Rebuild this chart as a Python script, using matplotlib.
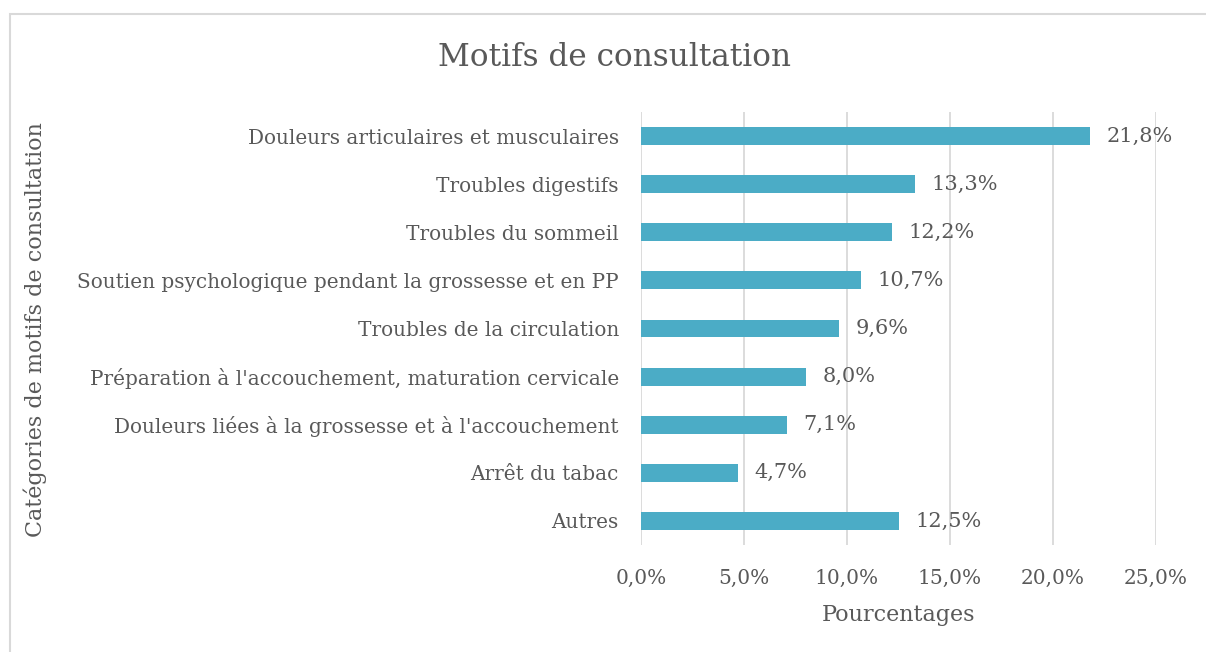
import matplotlib
matplotlib.use("Agg")
import matplotlib.pyplot as plt
from matplotlib.patches import Rectangle

categories = [
    "Douleurs articulaires et musculaires",
    "Troubles digestifs",
    "Troubles du sommeil",
    "Soutien psychologique pendant la grossesse et en PP",
    "Troubles de la circulation",
    "Préparation à l'accouchement, maturation cervicale",
    "Douleurs liées à la grossesse et à l'accouchement",
    "Arrêt du tabac",
    "Autres",
]
values = [21.8, 13.3, 12.2, 10.7, 9.6, 8.0, 7.1, 4.7, 12.5]
xticks = [0, 5, 10, 15, 20, 25]

TXT = "#595959"
BAR = "#4BACC6"
GRID = "#d9d9d9"
plt.rcParams['font.family'] = ['DejaVu Serif']

fig = plt.figure(figsize=(12.06, 6.52), dpi=100)
ax = fig.add_axes([641/1206, 1-545/652, (1156-641)/1206, (545-112)/652])

n = len(categories)
ypos = list(range(n))[::-1]
ax.barh(ypos, values, height=0.37, color=BAR, zorder=3)
ax.set_ylim(-0.5, n-0.5)
ax.set_xlim(0, 25)
ax.set_xticks(xticks)
ax.set_xticklabels([f"{t:.1f}%".replace(".", ",") for t in xticks], fontsize=14.5, color=TXT)
ax.set_yticks(ypos)
ax.set_yticklabels(categories, fontsize=14.4, color=TXT)
ax.tick_params(length=0, pad=16, axis='y')
ax.tick_params(length=0, pad=17, axis='x')
ax.grid(axis='x', color=GRID, linewidth=1.3, zorder=0)
for s in ax.spines.values():
    s.set_visible(False)
for y, v in zip(ypos, values):
    ax.text(v + 0.8, y, f"{v:.1f}%".replace(".", ","), va='center', ha='left', fontsize=15, color=TXT)

ax.set_xlabel("Pourcentages", fontsize=16, color=TXT, labelpad=12)
fig.text(35/1206, 1-330/652, "Catégories de motifs de consultation", rotation=90, fontsize=16,
         color=TXT, ha='center', va='center')
fig.text(614/1206, 1-58/652, "Motifs de consultation", fontsize=22.4, color=TXT, ha='center', va='center')

fig.patches.append(Rectangle((10/1206, -0.1), 1.2, 1-14/652+0.1, transform=fig.transFigure,
                             fill=False, edgecolor="#d9d9d9", linewidth=1.5))
fig.savefig("out.png", dpi=100, facecolor="white")
